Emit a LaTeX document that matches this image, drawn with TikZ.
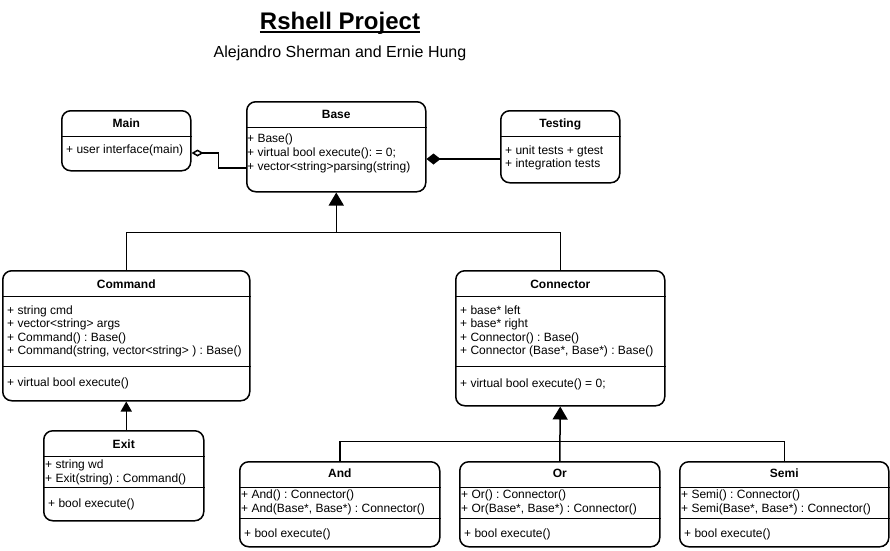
\documentclass[tikz,border=0pt]{standalone}
\usepackage{fontspec}
\setmainfont{Liberation Sans}
\usetikzlibrary{arrows.meta}
\usetikzlibrary{calc}
\usetikzlibrary{positioning}
\frenchspacing
\tikzset{cls/.style 2 args = {draw, line width=1.5pt, rounded corners=9pt, inner sep=0,
                              minimum width=#1, minimum height=#2, anchor=north west}}
\tikzset{rule/.style = {line width=0.8pt}}
\tikzset{clsname/.style = {font=\fontsize{12}{14}\selectfont\bfseries, anchor=base, inner sep=0}}
\tikzset{member/.style = {font=\fontsize{12}{14}\selectfont, anchor=base west, inner sep=0}}
\tikzset{link/.style = {line width=1.5pt}}
\tikzset{inherit/.style = {link, -{Triangle[width=15pt, length=13pt]}}}

\begin{document}
\begin{tikzpicture}[x=1pt, y=-1pt]
    \useasboundingbox (0,0) rectangle (890,550);
    \node [font=\fontsize{24}{28}\selectfont\bfseries, anchor=base, inner sep=0] (title) at (340,29) {Rshell Project};
    \draw [line width=1.5pt] ($(title.base west)+(0,3)$) -- ($(title.base east)+(0,3)$);
    \node [font=\fontsize{16}{19}\selectfont, anchor=base, inner sep=0] (authors) at (340,57.5) {Alejandro Sherman and Ernie Hung};

    \node [cls={129pt}{60pt}] (main) at (61,110) {};
    \node [cls={179pt}{90pt}] (base) at (246,101) {};
    \node [cls={119pt}{72pt}] (testing) at (500,110) {};
    \node [cls={247pt}{130pt}] (cmd) at (2,270) {};
    \node [cls={209pt}{135pt}] (conn) at (455,270) {};
    \node [cls={160pt}{90pt}] (exit) at (43,430) {};
    \node [cls={200pt}{85pt}] (andop) at (239,461) {};
    \node [cls={200pt}{85pt}] (orop) at (459,461) {};
    \node [cls={209pt}{85pt}] (semiop) at (679,461) {};

    \foreach \b in {main, base, testing, cmd, conn, exit, andop, orop, semiop}
      \draw [rule] ($(\b.north west)+(0,26)$) -- ($(\b.north east)+(0,26)$);
    \foreach \b in {cmd, conn}
      \draw [rule] ($(\b.north west)+(0,96)$) -- ($(\b.north east)+(0,96)$);
    \foreach \b in {exit, andop, orop, semiop}
      \draw [rule] ($(\b.north west)+(0,57.5)$) -- ($(\b.north east)+(0,57.5)$);

    \node [clsname] (mainname) at ($(main.north)+(0,17)$) {Main};
    \node [clsname] (basename) at ($(base.north)+(0,17)$) {Base};
    \node [clsname] (testingname) at ($(testing.north)+(0,17)$) {Testing};
    \node [clsname] (cmdname) at ($(cmd.north)+(0,18)$) {Command};
    \node [clsname] (connname) at ($(conn.north)+(0,18)$) {Connector};
    \node [clsname] (exitname) at ($(exit.north)+(0,18)$) {Exit};
    \node [clsname] (andname) at ($(andop.north)+(0,16.5)$) {And};
    \node [clsname] (orname) at ($(orop.north)+(0,16.5)$) {Or};
    \node [clsname] (seminame) at ($(semiop.north)+(0,16.5)$) {Semi};

    \node [member] (main1) at ($(main.north west)+(5,43)$) {+ user interface(main)};
    \foreach \txt [count=\i] in {+ Base(), + virtual bool execute(): = 0;, + vector<string>parsing(string)}
      \node [member] (base\i) at ($(base.north west)+(1,{27+14*\i})$) {\txt};
    \foreach \txt [count=\i] in {+ unit tests + gtest, + integration tests}
      \node [member] (testing\i) at ($(testing.north west)+(5,{31+13*\i})$) {\txt};
    \foreach \txt [count=\i] in {+ string cmd, + vector<string> args, + Command() : Base(),
                                 {+ Command(string, vector<string> ) : Base()}}
      \node [member] (cmd\i) at ($(cmd.north west)+(5,{30.5+13.5*\i})$) {\txt};
    \node [member] (cmd5) at ($(cmd.north west)+(5,116)$) {+ virtual bool execute()};
    \foreach \txt [count=\i] in {+ base* left, + base* right, + Connector() : Base(),
                                 {+ Connector (Base*, Base*) : Base()}}
      \node [member] (conn\i) at ($(conn.north west)+(5,{30.5+13.5*\i})$) {\txt};
    \node [member] (conn5) at ($(conn.north west)+(5,117)$) {+ virtual bool execute() = 0;};
    \foreach \txt [count=\i] in {+ string wd, + Exit(string) : Command()}
      \node [member] (exit\i) at ($(exit.north west)+(2,{24+14*\i})$) {\txt};
    \node [member] (exit3) at ($(exit.north west)+(5,77)$) {+ bool execute()};
    \foreach \b/\op in {andop/And, orop/Or, semiop/Semi} {
      \node [member] (\b1) at ($(\b.north west)+(2,37)$) {+ \op() : Connector()};
      \node [member] (\b2) at ($(\b.north west)+(2,51)$) {+ \op(Base*, Base*) : Connector()};
      \node [member] (\b3) at ($(\b.north west)+(5,76)$) {+ bool execute()};
    }

    % aggregation and composition
    \draw [link, {Diamond[open, length=12pt, width=7pt]}-] ($(main.north east)+(0,43)$) -- ++(27,0) |- ($(base.north west)+(0,67)$);
    \draw [link, {Diamond[length=14pt, width=11pt]}-] ($(base.north east)+(0,58)$) -- ($(testing.north west)+(0,49)$);

    % inheritance
    \coordinate (topbus) at ($(base.south)+(0,40)$);
    \draw [link] (cmd.north) |- (topbus) -| (conn.north);
    \draw [inherit] (topbus) -- (base.south);
    \draw [link, -{Triangle[width=11pt, length=10pt]}] (exit.north -| cmd.south) -- (cmd.south);
    \coordinate (lowbus) at ($(conn.south)+(0,35)$);
    \draw [link] (andop.north) |- (lowbus) -| (semiop.north);
    \draw [inherit] (orop.north) -- (conn.south);
\end{tikzpicture}
\end{document}
